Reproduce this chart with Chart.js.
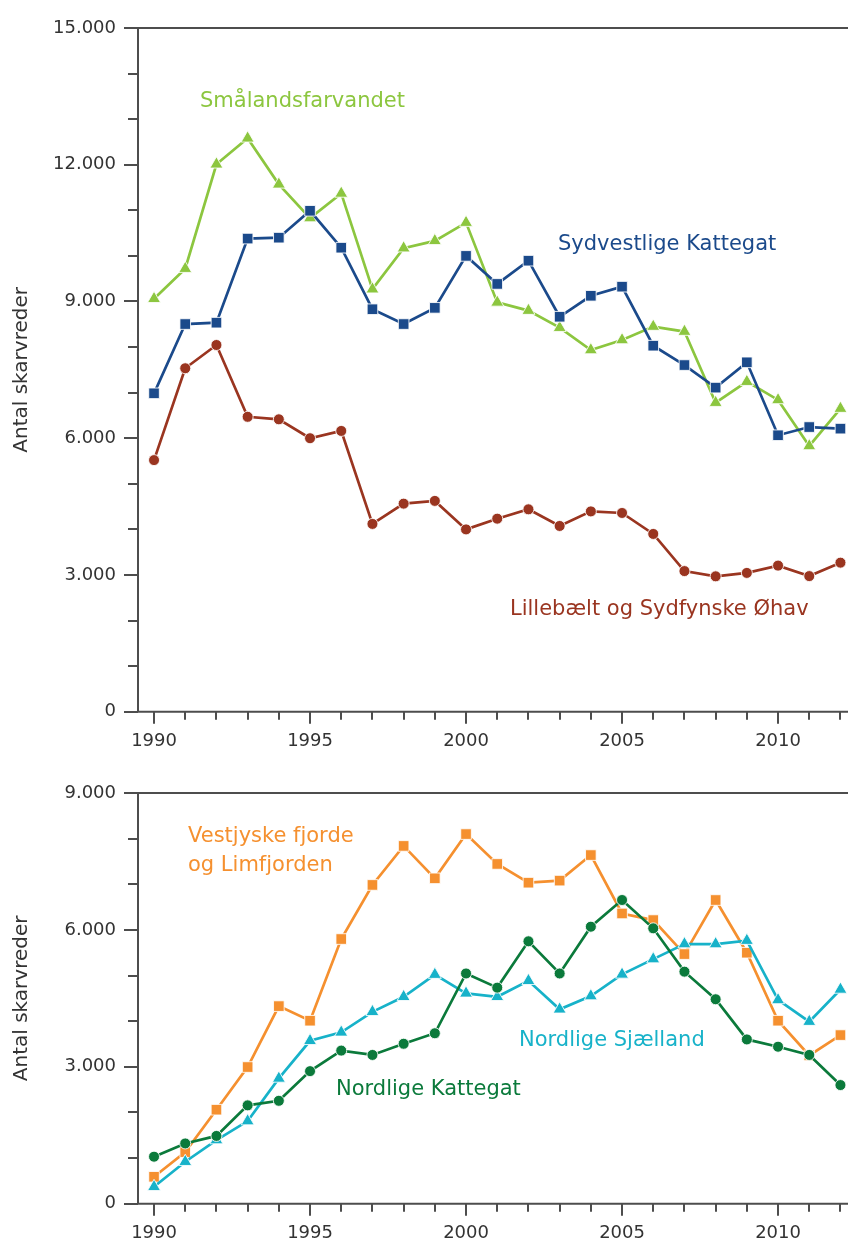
<!DOCTYPE html>
<html>
<head>
<meta charset="utf-8">
<script src="https://cdn.jsdelivr.net/npm/chart.js@4"></script>
<style>
  html, body { margin: 0; padding: 0; background: #fff; overflow: hidden; }
  #wrap { position: relative; width: 848px; height: 1244px; overflow: hidden; }
  canvas { position: absolute; left: 0; }
  #top { top: 0; }
  #bottom { top: 770px; }
</style>
</head>
<body>
<div id="wrap">
  <canvas id="top" width="858" height="770"></canvas>
  <canvas id="bottom" width="858" height="474"></canvas>
</div>
<script>
// data
const years = [1990, 1991, 1992, 1993, 1994, 1995, 1996, 1997, 1998, 1999, 2000, 2001,
  2002, 2003, 2004, 2005, 2006, 2007, 2008, 2009, 2010, 2011, 2012];

// top chart
const smaalandsfarvandet = [9060, 9720, 12010, 12580, 11570, 10830, 11370, 9270, 10170, 10330, 10730, 8980,
  8800, 8425, 7935, 8155, 8450, 8340, 6780, 7240, 6840, 5830, 6650];
const sydvestligeKattegat = [6985, 8505, 8535, 10380, 10400, 10990, 10180, 8830, 8505, 8860, 10000, 9385,
  9895, 8665, 9125, 9325, 8030, 7605, 7110, 7665, 6065, 6245, 6210];
const lillebaelt = [5520, 7535, 8045, 6470, 6415, 6000, 6160, 4120, 4565, 4625, 4000, 4235,
  4440, 4075, 4395, 4360, 3900, 3085, 2970, 3045, 3205, 2975, 3270];

// bottom chart
const vestjyske = [590, 1130, 2060, 2995, 4330, 4010, 5800, 6985, 7840, 7130, 8100, 7445,
  7035, 7080, 7640, 6360, 6215, 5470, 6655, 5500, 4010, 3250, 3695];
const nordligeSjaelland = [370, 920, 1395, 1810, 2745, 3570, 3755, 4205, 4535, 5020, 4610, 4535,
  4885, 4260, 4550, 5025, 5360, 5690, 5690, 5765, 4465, 3990, 4695];
const nordligeKattegat = [1030, 1320, 1485, 2155, 2255, 2905, 3355, 3260, 3505, 3735, 5045, 4735,
  5750, 5045, 6070, 6655, 6035, 5085, 4480, 3600, 3440, 3260, 2600];

const xLabelYears = [1990, 1995, 2000, 2005, 2010];
const yTicksTop = [0, 1000, 2000, 3000, 4000, 5000, 6000, 7000, 8000, 9000, 10000, 11000, 12000, 13000, 14000, 15000];
const yTicksBottom = [0, 1000, 2000, 3000, 4000, 5000, 6000, 7000, 8000, 9000];
const yLabelStep = 3000;

const FONT = 'DejaVu Sans';
Chart.defaults.font.family = FONT;
Chart.defaults.color = '#333';

function fmt(v) {
  return String(v).replace(/\B(?=(\d{3})+(?!\d))/g, '.');
}

function pts(vals) {
  return vals.map((v, i) => ({ x: years[i], y: v }));
}

function series(vals, color, style, radius) {
  return {
    data: pts(vals),
    borderColor: color,
    backgroundColor: color,
    borderWidth: 2.7,
    pointStyle: style,
    pointRadius: radius,
    pointBackgroundColor: color,
    pointBorderColor: 'rgba(255,255,255,0.85)',
    pointBorderWidth: 1,
    tension: 0,
    clip: false
  };
}

// axis frame and tick marks (long marks at labelled ticks)
const frame = {
  id: 'frame',
  beforeDatasetsDraw(chart) {
    const { ctx, chartArea: a, scales: { x, y } } = chart;
    ctx.save();
    ctx.strokeStyle = '#4d4d4d';
    ctx.lineWidth = 2;
    ctx.beginPath();
    ctx.moveTo(a.right + 20, a.top);
    ctx.lineTo(a.left, a.top);
    ctx.lineTo(a.left, a.bottom);
    ctx.lineTo(a.right + 20, a.bottom);
    y.ticks.forEach(t => {
      const py = Math.round(y.getPixelForValue(t.value));
      const len = t.value % yLabelStep === 0 ? 14 : 10;
      ctx.moveTo(a.left, py);
      ctx.lineTo(a.left - len, py);
    });
    x.ticks.forEach(t => {
      const px = Math.round(x.getPixelForValue(t.value));
      const len = xLabelYears.includes(t.value) ? 12 : 8;
      ctx.moveTo(px, a.bottom);
      ctx.lineTo(px, a.bottom + len);
    });
    ctx.stroke();
    ctx.restore();
  }
};

// series names written next to the lines
function namesPlugin(names) {
  return {
    id: 'names',
    afterDraw(chart) {
      const ctx = chart.ctx;
      ctx.save();
      ctx.font = '21px "' + FONT + '"';
      ctx.textAlign = 'left';
      ctx.textBaseline = 'alphabetic';
      names.forEach(n => {
        ctx.fillStyle = n.color;
        ctx.fillText(n.text, n.x, n.y);
      });
      ctx.restore();
    }
  };
}

function makeChart(id, datasets, yTicks, yMax, topPad, xHeight, names) {
  return new Chart(document.getElementById(id), {
    type: 'line',
    data: { datasets: datasets },
    options: {
      responsive: false,
      animation: false,
      layout: { padding: { top: topPad, left: 0, right: 0, bottom: 0 } },
      plugins: { legend: { display: false }, tooltip: { enabled: false } },
      scales: {
        x: {
          type: 'linear',
          min: 1989.486,
          max: 2012.29,
          border: { display: false },
          grid: { display: false, drawTicks: false },
          afterBuildTicks: s => { s.ticks = years.map(v => ({ value: v })); },
          afterFit: s => { s.height = xHeight; s.paddingLeft = 0; s.paddingRight = 0; },
          ticks: {
            autoSkip: false,
            maxRotation: 0,
            padding: 19,
            font: { size: 18 },
            color: '#333',
            callback: v => xLabelYears.includes(v) ? String(v) : ''
          }
        },
        y: {
          min: 0,
          max: yMax,
          border: { display: false },
          grid: { display: false, drawTicks: false },
          afterBuildTicks: s => { s.ticks = yTicks.map(v => ({ value: v })); },
          afterFit: s => { s.width = 138; s.paddingTop = 0; s.paddingBottom = 0; },
          ticks: {
            padding: 22,
            font: { size: 18 },
            color: '#333',
            callback: v => v % yLabelStep === 0 ? fmt(v) : ''
          },
          title: {
            display: true,
            text: 'Antal skarvreder',
            font: { size: 20 },
            color: '#333',
            padding: { top: 10, bottom: 0 }
          }
        }
      }
    },
    plugins: [frame, namesPlugin(names)]
  });
}

makeChart('top', [
  series(lillebaelt, '#9a3520', 'circle', 5.5),
  series(sydvestligeKattegat, '#1b4a8b', 'rect', 7.5),
  series(smaalandsfarvandet, '#8cc63f', 'triangle', 7.5)
], yTicksTop, 15000, 28, 770 - 711.7, [
  { text: 'Smålandsfarvandet', x: 200, y: 107, color: '#8cc63f' },
  { text: 'Sydvestlige Kattegat', x: 558, y: 250, color: '#1b4a8b' },
  { text: 'Lillebælt og Sydfynske Øhav', x: 510, y: 615, color: '#9a3520' }
]);

makeChart('bottom', [
  series(nordligeKattegat, '#0b7a3b', 'circle', 5.5),
  series(nordligeSjaelland, '#17b2c9', 'triangle', 7.5),
  series(vestjyske, '#f5902f', 'rect', 7.5)
], yTicksBottom, 9000, 23, 474 - 433.7, [
  { text: 'Vestjyske fjorde', x: 188, y: 72, color: '#f5902f' },
  { text: 'og Limfjorden', x: 188, y: 101, color: '#f5902f' },
  { text: 'Nordlige Kattegat', x: 336, y: 325, color: '#0b7a3b' },
  { text: 'Nordlige Sjælland', x: 519, y: 276, color: '#17b2c9' }
]);
</script>
</body>
</html>
